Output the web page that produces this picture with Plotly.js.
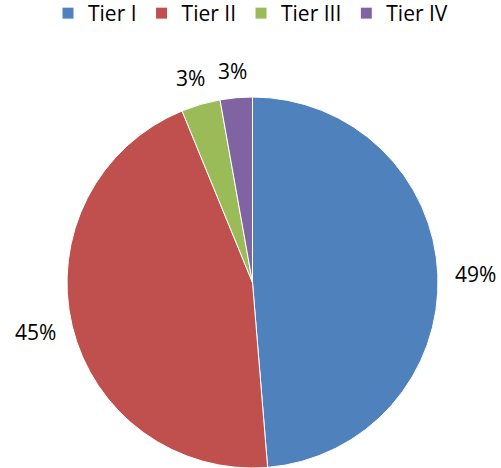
<!DOCTYPE html>
<html>
<head>
<meta charset="utf-8">
<script src="https://cdn.plot.ly/plotly-3.0.1.min.js"></script>
<style>html,body{margin:0;padding:0;background:#fff}#chart{width:501px;height:468px}</style>
</head>
<body>
<div id="chart"></div>
<script>
const categories = ['Tier I', 'Tier II', 'Tier III', 'Tier IV'];
const values = [48.7, 45.1, 3.4, 2.8];
const colors = ['#4F81BD', '#C0504D', '#9BBB59', '#8064A2'];

const W = 501, H = 468;
const dom = {x: [66.5/W, 438.5/W], y: [0, 371/H]};
const fontFam = 'Open Sans, sans-serif';

// Excel-style outside data labels, placed from each slice's mid angle
const total = values.reduce((a, b) => a + b, 0);
const cx = (dom.x[0] + dom.x[1]) / 2 * W;
const cy = H - (dom.y[0] + dom.y[1]) / 2 * H;
const R = Math.min((dom.x[1] - dom.x[0]) * W, (dom.y[1] - dom.y[0]) * H) / 2;
const gap = 16, lw = 44, lh = 22;
let cum = 0;
const annotations = values.map((v) => {
  const mid = (cum + v / 2) / total * 2 * Math.PI;
  cum += v;
  const ux = Math.sin(mid), uy = -Math.cos(mid);
  const px = cx + (R + gap) * ux + ux * lw / 2;
  const py = cy + (R + gap) * uy + uy * lh / 2;
  return {
    xref: 'paper', yref: 'paper', x: px / W, y: 1 - py / H,
    xanchor: 'center', yanchor: 'middle', showarrow: false,
    text: Math.round(v / total * 100) + '%',
    font: {family: fontFam, size: 21, color: '#000'}
  };
});

const trace = {
  type: 'pie',
  labels: categories,
  values: values,
  sort: false,
  direction: 'clockwise',
  rotation: 0,
  marker: {colors: colors, line: {color: '#ffffff', width: 1}},
  textinfo: 'none',
  hoverinfo: 'none',
  automargin: false,
  domain: dom
};

const layout = {
  width: W, height: H,
  margin: {l: 0, r: 0, t: 0, b: 0, autoexpand: false},
  paper_bgcolor: '#fff',
  showlegend: true,
  annotations: annotations,
  legend: {
    orientation: 'h', x: 0.5, xanchor: 'center', y: 1.015, yanchor: 'top',
    font: {family: fontFam, size: 21, color: '#000'},
    itemwidth: 30, traceorder: 'normal'
  }
};

Plotly.newPlot('chart', [trace], layout, {displayModeBar: false, staticPlot: true});
</script>
</body>
</html>
